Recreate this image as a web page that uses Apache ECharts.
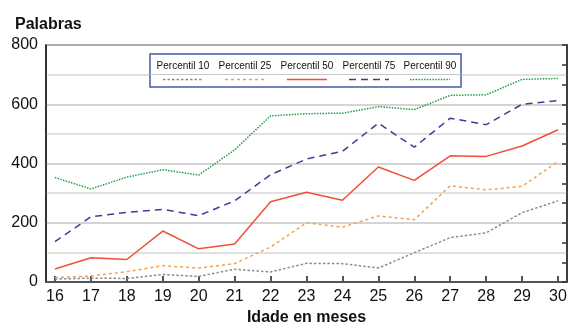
<!DOCTYPE html>
<html>
<head>
<meta charset="utf-8">
<script src="https://cdn.jsdelivr.net/npm/echarts@6/dist/echarts.min.js"></script>
<style>html,body{margin:0;padding:0;background:#fff}#c{width:568px;height:322px}</style>
</head>
<body>
<div id="c"></div>
<script>
const months = [16,17,18,19,20,21,22,23,24,25,26,27,28,29,30];
const seriesNames = ['Percentil 10','Percentil 25','Percentil 50','Percentil 75','Percentil 90'];
const p10 = [10,13,12,25,19,43,34,63,62,47,99,150,166,234,274];
const p25 = [15,20,35,55,47,62,118,200,185,223,210,325,311,323,407];
const p50 = [44,82,76,172,112,128,271,303,276,388,343,426,424,459,514];
const p75 = [136,220,235,245,224,274,362,415,441,536,455,553,531,600,612];
const p90 = [353,314,354,379,361,446,561,568,570,592,582,630,632,684,687];
const yTicks = [0,200,400,600,800];

const colors = ['#8c8c8c','#f7a049','#f0503a','#3b3f9c','#1f9e4a'];
const dashes = [[2.5,2],[3,3],'solid',[7,5],[1.5,1.3]];
const allData = [p10,p25,p50,p75,p90];

const FONT = '"Liberation Sans", Arial, sans-serif';
const chart = echarts.init(document.getElementById('c'), null, {renderer:'canvas'});

const series = allData.map((vals,i)=>({
  name: seriesNames[i],
  type: 'line',
  data: months.map((m,j)=>[m, vals[j]]),
  symbol: 'none',
  lineStyle: {color: colors[i], width: 1.5, type: dashes[i]},
  z: 3 + i
}));

// legend drawn as graphic
const lg = [];
const lgLeft = 150, lgTop = 54, lgW = 311, lgH = 33;
lg.push({type:'rect', shape:{x:lgLeft,y:lgTop,width:lgW,height:lgH}, style:{fill:'#fff',stroke:'#4a58aa',lineWidth:1.5}, z:100});
lg.push({type:'line', shape:{x1:lgLeft,y1:74.5,x2:lgLeft+lgW,y2:74.5}, style:{stroke:'#c8c8c8',lineWidth:1}, z:101});
const centers = [183,245,307,369,430];
seriesNames.forEach((n,i)=>{
  lg.push({type:'text', x:centers[i], y:66, style:{text:n, font:'10px '+FONT, fill:'#111', align:'center', verticalAlign:'middle'}, z:102});
  lg.push({type:'line', shape:{x1:centers[i]-20,y1:79.5,x2:centers[i]+20,y2:79.5}, style:{stroke:colors[i], lineWidth:1.5, lineDash: dashes[i]==='solid'?null:dashes[i]}, z:102});
});

chart.setOption({
  animation: false,
  backgroundColor: '#fff',
  title: {text:'Palabras', left: 10, top: 12, textStyle:{fontFamily:FONT, fontSize:16, fontWeight:'bold', color:'#111'}},
  grid: {left:46, right:1, top:45, bottom:40, show:true, borderColor:'#333', borderWidth:1.5, backgroundColor:'transparent', containLabel:false, outerBoundsMode:'none'},
  xAxis: {
    type:'value', min:15.75, max:30.25,
    name:'Idade en meses', nameLocation:'middle', nameGap:25,
    nameTextStyle:{fontFamily:FONT, fontSize:16, fontWeight:'bold', color:'#111'},
    axisLine:{show:true, onZero:false, lineStyle:{color:'#555', width:2}},
    axisTick:{show:true, inside:true, length:6, customValues: months, lineStyle:{color:'#555', width:2}},
    axisLabel:{customValues: months, fontFamily:FONT, fontSize:16, color:'#111', margin:7},
    splitLine:{show:false}
  },
  yAxis: [{
    type:'value', min:0, max:800, interval:100,
    axisLine:{show:true, lineStyle:{color:'#222', width:1.5}},
    axisTick:{show:false},
    axisLabel:{fontFamily:FONT, fontSize:16, color:'#111', margin:8,
      formatter: v => yTicks.indexOf(v) >= 0 ? String(v) : ''},
    splitLine:{show:true, lineStyle:{color:['#c6c6c6','#d6d6d6'], width:1.5}}
  },{
    type:'value', min:0, max:12, interval:1, position:'right',
    axisLine:{show:true, lineStyle:{color:'#333', width:1.5}},
    axisTick:{show:true, inside:true, length:5, lineStyle:{color:'#333', width:1.5}},
    axisLabel:{show:false},
    splitLine:{show:false}
  }],
  graphic: lg,
  series: series
});
</script>
</body>
</html>
